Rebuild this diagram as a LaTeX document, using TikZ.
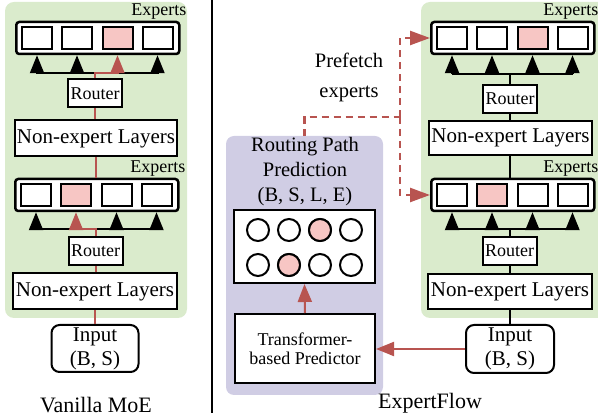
\documentclass[tikz,border=0pt]{standalone}
\usepackage{fontspec}
\setmainfont{Liberation Serif}
\usetikzlibrary{arrows.meta}

\definecolor{panelgreen}{RGB}{218,235,204}
\definecolor{panelpurple}{RGB}{208,205,228}
\definecolor{hotpink}{RGB}{247,198,196}
\definecolor{pathred}{RGB}{184,84,80}

% A row of four experts inside a rounded frame, with its "Experts" caption.
% #1 name, #2 left x of the frame, #3 centre y, #4 index of the active expert, #5 caption offset
\newcommand\expertgroup[5]{%
  \node[groupbox, anchor=west] (#1) at (#2,#3) {};
  \foreach \k/\dx in {1/22,2/62,3/102.5,4/142.5}{%
    \ifnum\k=#4\relax\def\expfill{hotpink}\else\def\expfill{white}\fi
    \node[expertbox, fill=\expfill] (#1-\k) at ([xshift=\dx pt]#1.west) {};
  }%
  \node[explabel, anchor=east] (#1-lab) at ([shift={(#5,-26)}]#1.east) {Experts};
}

\begin{document}
\begin{tikzpicture}[x=1pt,y=-1pt,
  font=\fontsize{21}{24}\selectfont,
  box/.style={draw, fill=white, line width=2pt, inner sep=0pt},
  groupbox/.style={draw, fill=white, line width=2.5pt, rounded corners=3pt,
    minimum width=163pt, minimum height=32pt, inner sep=0pt},
  expertbox/.style={draw, line width=2pt, minimum width=30pt, minimum height=22pt, inner sep=0pt},
  explabel/.style={inner sep=0pt, font=\fontsize{18}{20}\selectfont},
  routerbox/.style={box, minimum width=54pt, minimum height=28pt, font=\fontsize{18}{20}\selectfont},
  layerbox/.style={box, minimum height=36pt},
  inputbox/.style={box, rounded corners=8pt, align=center, minimum width=87pt, minimum height=47pt},
  link/.style={line width=2pt},
  redlink/.style={line width=2pt, draw=pathred},
  uparrow/.style={-{Triangle[width=14pt,length=18pt]}},
  prefetch/.style={draw=pathred, line width=2.5pt, dash pattern=on 7pt off 5pt},
  prefetchtip/.style={-{Triangle[width=14pt,length=20pt]}},
  dot/.style={circle, draw, line width=2pt, minimum size=22pt, inner sep=0pt, fill=white},
  caption/.style={inner sep=0pt, font=\fontsize{22}{26}\selectfont},
]
\useasboundingbox (0,0) rectangle (598,419);
\clip (0,0) rectangle (598,419);

% ---------- panels ----------
\fill[panelgreen, rounded corners=9pt] (5,2) rectangle (187,318);
\fill[panelgreen, rounded corners=9pt] (421,2) rectangle (608,318);
\node[fill=panelpurple, rounded corners=8pt, minimum width=157pt, minimum height=259pt,
  inner sep=0pt] (pp) at (304.5,265.5) {};

% separator
\coordinate (sepT) at (212,0);
\coordinate (sepB) at (212,413);
\draw[line width=2pt] (sepT) -- (sepB);

% ---------- Vanilla MoE ----------
\expertgroup{LA}{15}{38}{3}{6}
\expertgroup{LB}{14}{195}{2}{6}
\node[routerbox] (LRa) at (95,93.5) {Router};
\node[layerbox, minimum width=162pt] (LNa) at (96,138.5) {Non-expert Layers};
\node[routerbox] (LRb) at (95.5,251) {Router};
\node[layerbox, minimum width=164pt] (LNb) at (95,291.5) {Non-expert Layers};
\node[inputbox] (LIn) at (95,348.5) {Input\\(B, S)};
\node[caption] (LCap) at (96,405) {Vanilla MoE};

\coordinate (LbarA) at (95,73);
\coordinate (LbarB) at (95.5,229);
\draw[link] (LA-1 |- LbarA) -- (LA-4 |- LbarA);
\draw[link] (LB-1 |- LbarB) -- (LB-4 |- LbarB);
\foreach \k in {1,2,4}{\draw[link, uparrow] (LA-\k |- LbarA) -- (LA-\k |- LA.south);}
\foreach \k in {1,3,4}{\draw[link, uparrow] (LB-\k |- LbarB) -- (LB-\k |- LB.south);}

\draw[redlink] (LIn.north) -- (LIn.north |- LNb.south);
\draw[redlink] (LRb.south |- LNb.north) -- (LRb.south);
\draw[redlink, uparrow] (LRb.north) -- (LbarB) -- (LB-2 |- LbarB) -- (LB-2 |- LB.south);
\draw[redlink] (LB.north -| LNa.south) -- (LNa.south);
\draw[redlink] (LRa.south |- LNa.north) -- (LRa.south);
\draw[redlink, uparrow] (LRa.north) -- (LbarA) -- (LA-3 |- LbarA) -- (LA-3 |- LA.south);

% ---------- ExpertFlow ----------
\expertgroup{RA}{430}{38}{3}{3}
\expertgroup{RB}{430}{195}{2}{3}
\node[routerbox] (RRa) at (510,99) {Router};
\node[layerbox, minimum width=163pt, minimum height=34pt] (RNa) at (510.5,138) {Non-expert Layers};
\node[routerbox] (RRb) at (509.5,251) {Router};
\node[layerbox, minimum width=164pt, minimum height=35pt] (RNb) at (510,291.5) {Non-expert Layers};
\node[inputbox, minimum width=88pt, minimum height=48pt] (RIn) at (510,349) {Input\\(B, S)};
\node[caption] (RCap) at (430,403) {ExpertFlow};

\coordinate (RbarA) at (510,74);
\coordinate (RbarB) at (510,229);
\draw[link] (RA-1 |- RbarA) -- (RA-4 |- RbarA);
\draw[link] (RB-1 |- RbarB) -- (RB-4 |- RbarB);
\foreach \k in {1,2,3,4}{
  \draw[link, uparrow] (RA-\k |- RbarA) -- (RA-\k |- RA.south);
  \draw[link, uparrow] (RB-\k |- RbarB) -- (RB-\k |- RB.south);
}
\draw[link] (RIn.north) -- (RIn.north |- RNb.south);
\draw[link] (RIn.north |- RNb.north) -- (RIn.north |- RRb.south);
\draw[link] (RIn.north |- RRb.north) -- (RbarB);
\draw[link] (RIn.north |- RB.north) -- (RIn.north |- RNa.south);
\draw[link] (RIn.north |- RNa.north) -- (RIn.north |- RRa.south);
\draw[link] (RIn.north |- RRa.north) -- (RbarA);

% ---------- routing path predictor ----------
\node[align=center, inner sep=0pt, font=\fontsize{20.5}{25}\selectfont] (ptitle) at (305,172)
  {Routing Path\\Prediction\\(B, S, L, E)};
\node[box, minimum width=141pt, minimum height=73pt] (cb) at (304.5,246.5) {};
\foreach \i/\cx in {1/258,2/289,3/320,4/351}{
  \node[dot] (c1-\i) at (\cx,230) {};
  \node[dot] (c2-\i) at (\cx,265) {};
}
\node[dot, fill=hotpink] at (c1-3) {};
\node[dot, fill=hotpink] at (c2-2) {};
\node[box, minimum width=140pt, minimum height=69pt, align=center,
  font=\fontsize{18}{19}\selectfont] (tp) at (305,348.5) {Transformer-\\based Predictor};

\draw[redlink, uparrow] (tp.north) -- (cb.south);
\draw[redlink, uparrow] (RIn.west) -- (tp.east |- RIn.west);

% prefetch paths
\coordinate (pj) at (400,117);
\draw[prefetch] (pp.north) |- (pj);
\draw[prefetch, prefetchtip] (pj) |- (RA.west);
\draw[prefetch, prefetchtip] (pj) |- (RB.west);
\node[inner sep=0pt, font=\fontsize{20.5}{24}\selectfont] (pf1) at (349,60) {Prefetch};
\node[inner sep=0pt, font=\fontsize{20.5}{24}\selectfont] (pf2) at (349,94) {experts};
\end{tikzpicture}
\end{document}
